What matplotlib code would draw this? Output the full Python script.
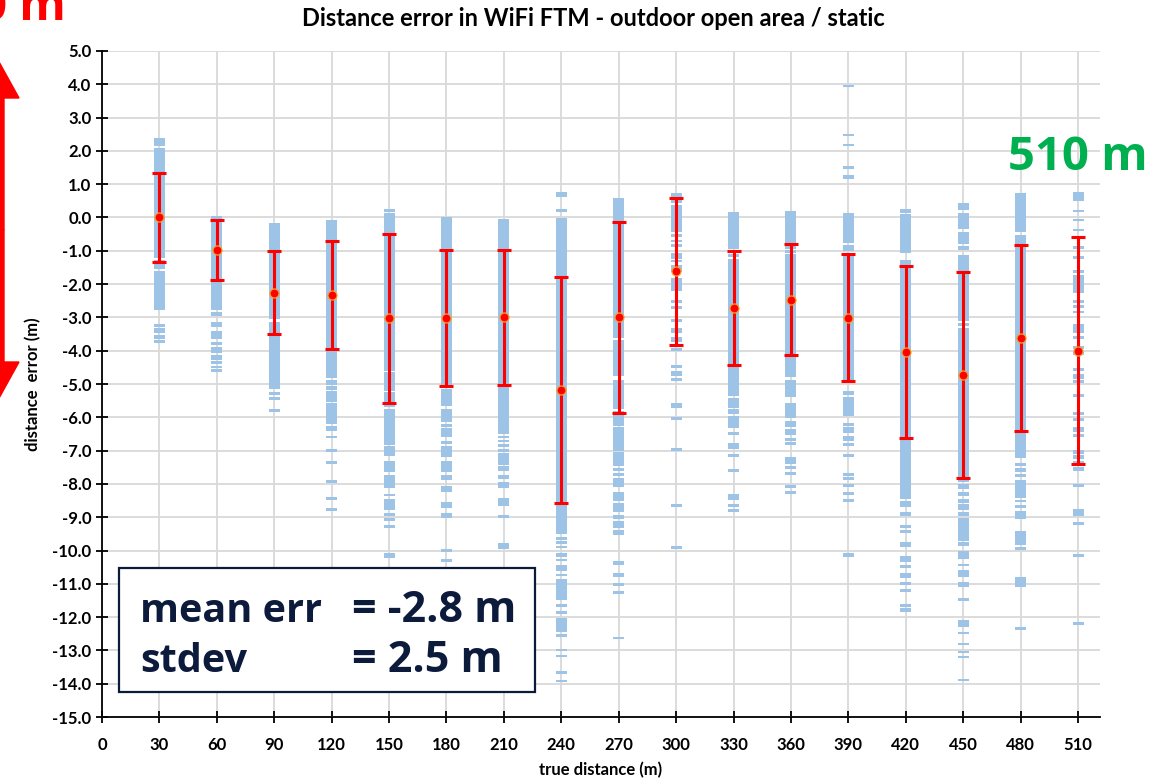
import matplotlib
matplotlib.use("Agg")
import matplotlib.pyplot as plt
from matplotlib.patches import Rectangle, FancyArrow
from matplotlib.transforms import IdentityTransform

# true distances (m)
distances = [30, 60, 90, 120, 150, 180, 210, 240, 270, 300, 330, 360, 390, 420, 450, 480, 510]

# mean error and stdev per distance (red markers / error bars)
means = [0.0, -0.97, -2.26, -2.33, -3.03, -3.03, -3.0, -5.18, -3.0, -1.62,
         -2.72, -2.47, -3.01, -4.05, -4.73, -3.62, -4.0]
stdevs = [1.35, 0.9, 1.24, 1.62, 2.54, 2.04, 2.03, 3.4, 2.86, 2.2,
          1.72, 1.66, 1.9, 2.58, 3.09, 2.8, 3.4]

seg_30 = [(2.38, 2.15), (2.09, -1.22), (-1.28, -1.55), (-1.61, -2.78), (-3.21, -3.30),
          (-3.33, -3.46), (-3.52, -3.65), (-3.68, -3.77)]
seg_60 = [(0.03, -2.78), (-2.84, -2.95), (-3.14, -3.30), (-3.42, -3.66), (-3.75, -3.84),
          (-3.88, -4.08), (-4.14, -4.27), (-4.31, -4.40), (-4.45, -4.52), (-4.56, -4.64)]
seg_90 = [(-0.17, -3.06), (-3.15, -5.15), (-5.25, -5.32), (-5.40, -5.49), (-5.76, -5.84)]
seg_120 = [(-0.08, -4.83), (-4.89, -5.03), (-5.06, -5.17), (-5.20, -5.54), (-5.58, -6.21),
           (-6.25, -6.42), (-6.55, -6.62), (-6.94, -7.03), (-7.32, -7.41), (-7.89, -7.98),
           (-8.40, -8.49), (-8.71, -8.80)]
seg_150 = [(0.25, 0.17), (0.13, -4.60), (-4.63, -5.20), (-5.25, -5.70), (-5.75, -6.83),
           (-6.87, -7.17), (-7.32, -7.63), (-7.73, -8.11), (-8.29, -8.37), (-8.45, -8.77),
           (-8.87, -8.95), (-9.01, -9.10), (-9.23, -9.31), (-10.07, -10.21)]
seg_180 = [(0.0, -5.10), (-5.15, -5.67), (-5.75, -6.15), (-6.20, -6.28), (-6.33, -6.58),
           (-6.71, -6.79), (-6.85, -7.19), (-7.32, -7.63), (-7.73, -7.88), (-8.05, -8.25),
           (-8.53, -8.73), (-8.87, -9.01), (-9.95, -10.05), (-10.27, -10.35)]
seg_210 = [(-0.05, -6.51), (-6.55, -6.63), (-6.67, -6.75), (-6.80, -6.90), (-6.95, -7.05),
           (-7.07, -7.42), (-7.47, -7.60), (-7.73, -7.85), (-7.93, -8.11), (-8.42, -8.65),
           (-8.93, -9.01), (-9.77, -9.95)]
seg_240 = [(0.77, 0.63), (0.25, 0.15), (-0.02, -9.50), (-9.60, -9.67), (-9.72, -9.80),
           (-9.85, -9.93), (-10.07, -10.20), (-10.25, -10.33), (-10.45, -10.63), (-10.70, -10.77),
           (-10.85, -11.50), (-11.60, -11.70), (-11.83, -11.92), (-12.03, -12.45), (-12.52, -12.60),
           (-12.95, -13.02), (-13.13, -13.20), (-13.63, -13.70), (-13.88, -13.95)]
seg_270 = [(0.58, -3.63), (-3.69, -4.75), (-4.88, -5.75), (-5.80, -6.25), (-6.30, -7.00),
           (-7.05, -7.45), (-7.51, -7.60), (-7.67, -7.77), (-7.82, -8.10), (-8.25, -8.50),
           (-8.57, -8.83), (-8.93, -9.05), (-9.11, -9.31), (-9.38, -9.52), (-10.32, -10.45),
           (-10.68, -10.81), (-10.99, -11.08), (-11.21, -11.32), (-12.59, -12.67)]
seg_300 = [(0.75, 0.45), (0.37, -0.45), (-0.50, -0.58), (-0.68, -0.75), (-0.80, -0.88),
           (-1.07, -1.25), (-1.28, -1.35), (-1.43, -1.63), (-1.82, -2.20), (-2.48, -2.56),
           (-2.65, -2.74), (-3.05, -3.13), (-3.32, -3.47), (-3.60, -3.75), (-3.92, -4.00),
           (-4.43, -4.51), (-4.61, -4.77), (-4.82, -4.90), (-5.57, -5.71), (-5.99, -6.07),
           (-6.92, -7.00), (-8.60, -8.68), (-9.86, -9.94)]
seg_330 = [(0.16, -0.95), (-1.10, -1.20), (-1.25, -5.37), (-5.42, -5.71), (-5.75, -5.90),
           (-5.96, -6.31), (-6.45, -6.53), (-6.77, -6.95), (-7.10, -7.18), (-7.55, -7.63),
           (-8.30, -8.47), (-8.60, -8.68), (-8.75, -8.83)]
seg_360 = [(0.19, -0.95), (-0.98, -1.07), (-1.11, -4.78), (-4.88, -5.38), (-5.57, -6.03),
           (-6.11, -6.30), (-6.35, -6.52), (-6.62, -6.70), (-6.74, -6.82), (-7.19, -7.40),
           (-7.46, -7.54), (-7.64, -7.72), (-8.03, -8.13), (-8.20, -8.29)]
seg_390 = [(3.99, 3.91), (2.52, 2.44), (2.21, 2.14), (1.56, 1.47), (1.27, 1.17),
           (0.14, -0.77), (-0.83, -1.01), (-1.10, -4.89), (-5.22, -5.33), (-5.40, -5.83),
           (-5.85, -5.97), (-6.17, -6.26), (-6.29, -6.47), (-6.56, -6.71), (-6.77, -6.87),
           (-7.10, -7.19), (-7.66, -7.76), (-7.80, -7.87), (-7.99, -8.09), (-8.23, -8.32),
           (-8.46, -8.55), (-10.08, -10.18)]
seg_420 = [(0.25, 0.14), (0.09, -1.08), (-1.27, -8.44), (-8.52, -8.70), (-8.84, -8.97),
           (-9.22, -9.33), (-9.38, -9.48), (-9.74, -9.89), (-10.15, -10.34), (-10.45, -10.54),
           (-10.67, -10.84), (-10.94, -11.03), (-11.15, -11.25), (-11.60, -11.69), (-11.74, -11.85)]
seg_450 = [(0.44, 0.23), (0.14, -0.34), (-0.43, -0.80), (-0.86, -0.99), (-1.12, -3.12),
           (-3.17, -3.27), (-3.31, -7.80), (-7.85, -7.95), (-8.01, -8.16), (-8.24, -8.37),
           (-8.45, -8.56), (-8.60, -8.78), (-8.83, -8.96), (-9.03, -9.70), (-9.75, -9.87),
           (-10.02, -10.26), (-10.40, -10.47), (-10.58, -10.80), (-10.94, -11.10), (-11.42, -11.51),
           (-12.08, -12.31), (-12.45, -12.52), (-12.78, -12.85), (-13.02, -13.09), (-13.16, -13.24),
           (-13.86, -13.93)]
seg_480 = [(0.73, -0.45), (-0.53, -7.23), (-7.36, -7.47), (-7.53, -7.64), (-7.70, -7.79),
           (-7.89, -8.41), (-8.47, -8.55), (-8.62, -8.73), (-8.81, -9.04), (-9.41, -9.83),
           (-9.88, -9.97), (-10.81, -11.10), (-12.31, -12.40)]
seg_510 = [(0.77, 0.49), (0.23, 0.15), (-0.04, -0.12), (-0.34, -0.42), (-0.85, -0.94),
           (-1.17, -1.26), (-1.58, -1.66), (-1.72, -2.26), (-2.47, -2.56), (-2.64, -2.72),
           (-2.80, -2.88), (-3.19, -3.46), (-3.55, -3.66), (-3.87, -3.96), (-4.05, -4.14),
           (-4.52, -4.62), (-4.70, -4.86), (-4.89, -4.97), (-5.29, -5.38), (-5.85, -5.94),
           (-6.02, -6.12), (-6.28, -6.45), (-6.51, -6.60), (-6.99, -7.10), (-7.14, -7.25),
           (-7.31, -7.42), (-7.49, -7.60), (-8.01, -8.10), (-8.76, -8.95), (-9.13, -9.22),
           (-10.11, -10.20), (-12.14, -12.23)]

segments = [seg_30, seg_60, seg_90, seg_120, seg_150, seg_180, seg_210, seg_240, seg_270,
            seg_300, seg_330, seg_360, seg_390, seg_420, seg_450, seg_480, seg_510]

x_ticks = list(range(0, 511, 30))
y_ticks = list(range(-15, 6))

BLUE = '#9dc3e6'
RED = '#ff0000'
NAVY = '#0c1a3c'
GREEN = '#00b050'


def plot_ftm_error():
    fig = plt.figure(figsize=(11.71, 7.82), dpi=100)
    ax = fig.add_axes([0.0871, 0.0831, 0.8523, 0.8517])

    # blue dashes
    xs, bottoms, heights = [], [], []
    for d, segs in zip(distances, segments):
        for top, bot in segs:
            xs.append(d)
            bottoms.append(bot)
            heights.append(top - bot)
    ax.bar(xs, heights, bottom=bottoms, width=5.75, color=BLUE, linewidth=0, zorder=2)

    # mean +- stdev
    ax.errorbar(distances, means, yerr=stdevs, fmt='none', ecolor=RED,
                elinewidth=2.2, capsize=5, capthick=2.2, zorder=3)
    ax.plot(distances, means, 'o', markersize=6.5, markerfacecolor=RED,
            markeredgecolor='#f5a030', markeredgewidth=0.9, zorder=4)

    ax.set_xlim(0, 521.5)
    ax.set_ylim(-15, 5)
    ax.set_xticks(x_ticks)
    ax.set_yticks(y_ticks)
    ax.set_xticklabels([str(t) for t in x_ticks])
    ax.set_yticklabels([f"{t:.1f}" for t in y_ticks])
    ax.grid(True, color='#d9d9d9', linewidth=1.3, zorder=0)
    ax.set_axisbelow(True)
    for s in ['top', 'right']:
        ax.spines[s].set_visible(False)
    for s in ['left', 'bottom']:
        ax.spines[s].set_linewidth(1.3)
        ax.spines[s].set_color('black')
    ax.tick_params(axis='both', direction='inout', length=9, width=1.3, labelsize=12)
    ax.tick_params(axis='x', pad=10)
    ax.tick_params(axis='y', pad=3)
    for lab in ax.get_xticklabels() + ax.get_yticklabels():
        lab.set_fontweight('bold')

    ax.set_xlabel("true distance (m)", fontsize=12, fontweight='bold', labelpad=6)
    ax.set_ylabel("distance  error (m)", fontsize=12, fontweight='bold', labelpad=8)
    fig.text(0.507, 0.976, "Distance error in WiFi FTM - outdoor open area / static",
             ha='center', va='center', fontsize=17, fontweight='bold')

    # stats box
    ax.add_patch(Rectangle((0.017, 0.0375), 0.417, 0.186, transform=ax.transAxes,
                           facecolor='white', edgecolor=NAVY, linewidth=1.6, zorder=5))
    box_font = dict(fontweight='bold', color=NAVY, family='Open Sans',
                    transform=ax.transAxes, zorder=6, va='baseline', ha='left')
    ax.text(0.038, 0.1426, "mean err", fontsize=28.5, **box_font)
    ax.text(0.2505, 0.1426, "= -2.8 m", fontsize=31, **box_font)
    ax.text(0.038, 0.0676, "stdev", fontsize=28.5, **box_font)
    ax.text(0.2505, 0.0676, "= 2.5 m", fontsize=31, **box_font)

    # annotations around the chart
    fig.text(1148 / 1171, 1 - 170 / 782, "510 m", ha='right', va='baseline',
             fontsize=34, fontweight='bold', color=GREEN, family='Open Sans')
    fig.text(66 / 1171, 1 - 20 / 782, "0 m", ha='right', va='baseline',
             fontsize=34, fontweight='bold', color=RED, family='Open Sans')
    mid = 782 - 230
    fig.add_artist(FancyArrow(-2, mid, 0, (782 - 60) - mid, width=12, head_width=42,
                              head_length=38, length_includes_head=True, color=RED,
                              transform=IdentityTransform()))
    fig.add_artist(FancyArrow(-2, mid, 0, (782 - 400) - mid, width=12, head_width=42,
                              head_length=38, length_includes_head=True, color=RED,
                              transform=IdentityTransform()))

    fig.savefig("out.png", dpi=100)


def main():
    plt.rcParams.update({
        'font.family': ['Lato', 'DejaVu Sans'],
        'axes.unicode_minus': False,
    })
    plot_ftm_error()


if __name__ == '__main__':
    main()
